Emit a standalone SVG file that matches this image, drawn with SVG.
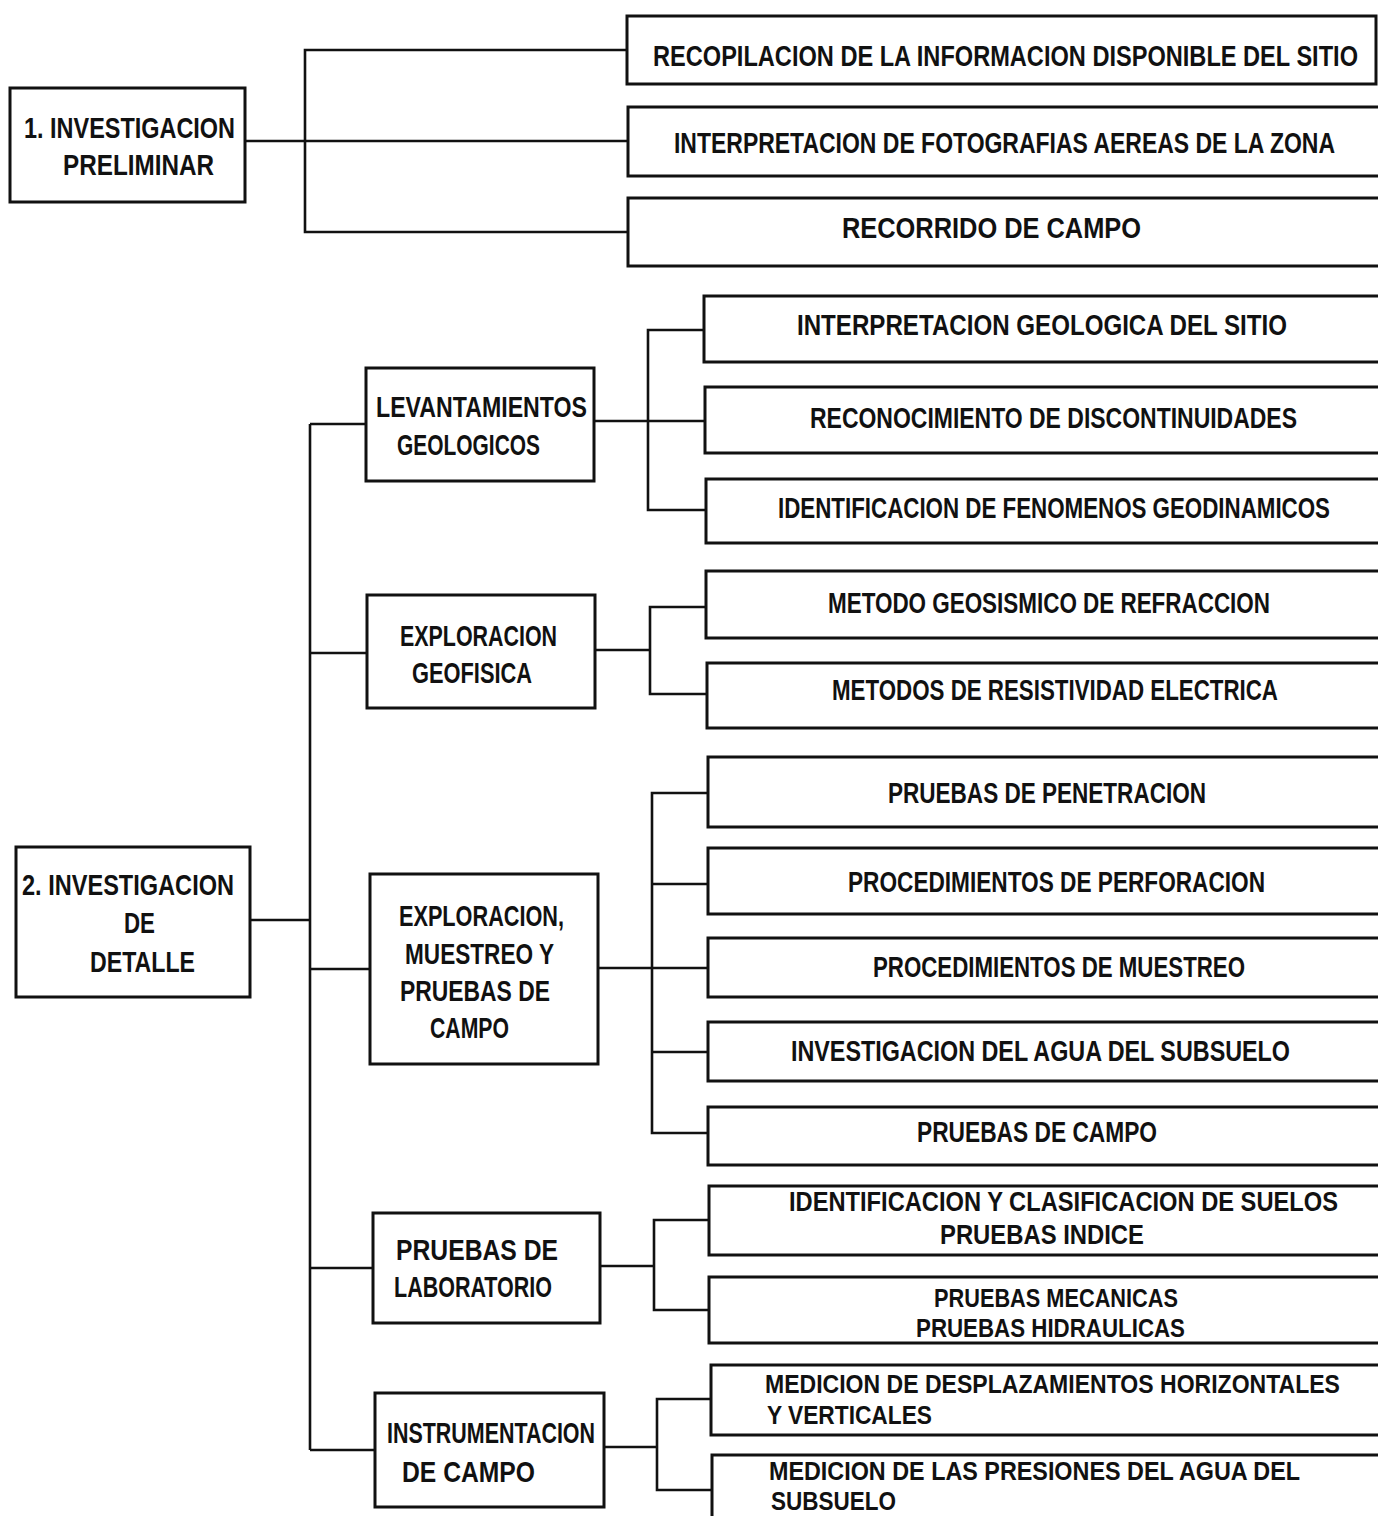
<svg xmlns="http://www.w3.org/2000/svg" width="1378" height="1516" viewBox="0 0 1378 1516">
<style>
.bx{fill:none;stroke:#111;stroke-width:3}
.cn{fill:none;stroke:#111;stroke-width:2.6}
text{font-family:"Liberation Sans",Arial,sans-serif;font-weight:bold;font-size:30px;fill:#111}
.m{font-size:28px}
.s{font-size:26px}
</style>
<rect x="0" y="0" width="1378" height="1516" fill="#fff"/>
<g id="connectors">
<path class="cn" d="M245 141 H627"/>
<path class="cn" d="M627 50 H305 V232 H628"/>
<path class="cn" d="M250 920 H310"/>
<path class="cn" d="M310 424 V1450"/>
<path class="cn" d="M310 424 H366 M310 653 H367 M310 969 H370 M310 1268 H373 M310 1450 H375"/>
<path class="cn" d="M594 421 H704 M704 330 H648 V510 H706"/>
<path class="cn" d="M595 650 H650 M706 607 H650 V694 H707"/>
<path class="cn" d="M598 968 H708 M708 793 H652 V1133 H708 M652 884 H708 M652 1052 H708"/>
<path class="cn" d="M600 1266 H654 M709 1220 H654 V1310 H709"/>
<path class="cn" d="M604 1447 H657 M711 1399 H657 V1490 H712"/>
</g>
<g id="n-investigacion-preliminar">
<rect class="bx" x="10" y="88" width="235" height="114"/>
<text x="24" y="138" textLength="211" lengthAdjust="spacingAndGlyphs">1. INVESTIGACION</text>
<text x="63" y="175" textLength="151" lengthAdjust="spacingAndGlyphs">PRELIMINAR</text>
</g>
<g id="n-recopilacion">
<rect class="bx" x="627" y="16" width="749" height="68"/>
<text transform="scale(0.7 1)" x="932.86" y="66" textLength="1007.14" lengthAdjust="spacingAndGlyphs">RECOPILACION DE LA INFORMACION DISPONIBLE DEL SITIO</text>
</g>
<g id="n-fotografias">
<path class="bx" d="M1380 107 H628 V176 H1380"/>
<text transform="scale(0.7 1)" x="962.86" y="153" textLength="944.29" lengthAdjust="spacingAndGlyphs">INTERPRETACION DE FOTOGRAFIAS AEREAS DE LA ZONA</text>
</g>
<g id="n-recorrido">
<path class="bx" d="M1380 198 H628 V266 H1380"/>
<text transform="scale(0.7 1)" x="1202.86" y="238" textLength="427.14" lengthAdjust="spacingAndGlyphs">RECORRIDO DE CAMPO</text>
</g>
<g id="n-investigacion-detalle">
<rect class="bx" x="16" y="847" width="234" height="150"/>
<text x="22" y="895" textLength="212" lengthAdjust="spacingAndGlyphs">2. INVESTIGACION</text>
<text x="124" y="933" textLength="31" lengthAdjust="spacingAndGlyphs">DE</text>
<text x="90" y="972" textLength="105" lengthAdjust="spacingAndGlyphs">DETALLE</text>
</g>
<g id="n-levantamientos">
<rect class="bx" x="366" y="368" width="228" height="113"/>
<text x="376" y="417" textLength="211" lengthAdjust="spacingAndGlyphs">LEVANTAMIENTOS</text>
<text x="397" y="455" textLength="143" lengthAdjust="spacingAndGlyphs">GEOLOGICOS</text>
</g>
<g id="n-geofisica">
<rect class="bx" x="367" y="595" width="228" height="113"/>
<text x="400" y="646" textLength="157" lengthAdjust="spacingAndGlyphs">EXPLORACION</text>
<text x="412" y="683" textLength="120" lengthAdjust="spacingAndGlyphs">GEOFISICA</text>
</g>
<g id="n-exploracion-muestreo">
<rect class="bx" x="370" y="874" width="228" height="190"/>
<text x="399" y="926" textLength="165" lengthAdjust="spacingAndGlyphs">EXPLORACION,</text>
<text x="405" y="964" textLength="149" lengthAdjust="spacingAndGlyphs">MUESTREO Y</text>
<text x="400" y="1001" textLength="150" lengthAdjust="spacingAndGlyphs">PRUEBAS DE</text>
<text x="430" y="1038" textLength="79" lengthAdjust="spacingAndGlyphs">CAMPO</text>
</g>
<g id="n-laboratorio">
<rect class="bx" x="373" y="1213" width="227" height="110"/>
<text x="396" y="1260" textLength="162" lengthAdjust="spacingAndGlyphs">PRUEBAS DE</text>
<text x="394" y="1297" textLength="158" lengthAdjust="spacingAndGlyphs">LABORATORIO</text>
</g>
<g id="n-instrumentacion">
<rect class="bx" x="375" y="1393" width="229" height="114"/>
<text x="387" y="1443" textLength="208" lengthAdjust="spacingAndGlyphs">INSTRUMENTACION</text>
<text x="402" y="1482" textLength="133" lengthAdjust="spacingAndGlyphs">DE CAMPO</text>
</g>
<g id="n-interpretacion-geologica">
<path class="bx" d="M1380 296 H704 V362 H1380"/>
<text transform="scale(0.7 1)" x="1138.57" y="335" textLength="700" lengthAdjust="spacingAndGlyphs">INTERPRETACION  GEOLOGICA DEL SITIO</text>
</g>
<g id="n-discontinuidades">
<path class="bx" d="M1380 387 H705 V453 H1380"/>
<text transform="scale(0.7 1)" x="1157.14" y="428" textLength="695.71" lengthAdjust="spacingAndGlyphs">RECONOCIMIENTO DE DISCONTINUIDADES</text>
</g>
<g id="n-geodinamicos">
<path class="bx" d="M1380 479 H706 V543 H1380"/>
<text transform="scale(0.7 1)" x="1111.43" y="518" textLength="788.57" lengthAdjust="spacingAndGlyphs">IDENTIFICACION DE FENOMENOS GEODINAMICOS</text>
</g>
<g id="n-geosismico">
<path class="bx" d="M1380 571 H706 V638 H1380"/>
<text transform="scale(0.7 1)" x="1182.86" y="613" textLength="631.43" lengthAdjust="spacingAndGlyphs">METODO GEOSISMICO DE REFRACCION</text>
</g>
<g id="n-resistividad">
<path class="bx" d="M1380 663 H707 V728 H1380"/>
<text transform="scale(0.7 1)" x="1188.57" y="700" textLength="637.14" lengthAdjust="spacingAndGlyphs">METODOS DE RESISTIVIDAD ELECTRICA</text>
</g>
<g id="n-penetracion">
<path class="bx" d="M1380 757 H708 V827 H1380"/>
<text transform="scale(0.7 1)" x="1268.57" y="803" textLength="454.29" lengthAdjust="spacingAndGlyphs">PRUEBAS DE PENETRACION</text>
</g>
<g id="n-perforacion">
<path class="bx" d="M1380 848 H708 V914 H1380"/>
<text transform="scale(0.7 1)" x="1211.43" y="892" textLength="595.71" lengthAdjust="spacingAndGlyphs">PROCEDIMIENTOS DE PERFORACION</text>
</g>
<g id="n-muestreo">
<path class="bx" d="M1380 938 H708 V997 H1380"/>
<text transform="scale(0.7 1)" x="1247.14" y="977" textLength="531.43" lengthAdjust="spacingAndGlyphs">PROCEDIMIENTOS DE MUESTREO</text>
</g>
<g id="n-agua-subsuelo">
<path class="bx" d="M1380 1022 H708 V1081 H1380"/>
<text transform="scale(0.7 1)" x="1130" y="1061" textLength="712.86" lengthAdjust="spacingAndGlyphs">INVESTIGACION DEL AGUA DEL SUBSUELO</text>
</g>
<g id="n-pruebas-campo">
<path class="bx" d="M1380 1107 H708 V1165 H1380"/>
<text transform="scale(0.7 1)" x="1310" y="1142" textLength="342.86" lengthAdjust="spacingAndGlyphs">PRUEBAS DE CAMPO</text>
</g>
<g id="n-clasificacion">
<path class="bx" d="M1380 1186 H709 V1255 H1380"/>
<text class="m" transform="scale(0.7 1)" x="1127.14" y="1211" textLength="784.29" lengthAdjust="spacingAndGlyphs">IDENTIFICACION Y CLASIFICACION DE SUELOS</text>
<text class="m" transform="scale(0.7 1)" x="1342.86" y="1244" textLength="291.43" lengthAdjust="spacingAndGlyphs">PRUEBAS INDICE</text>
</g>
<g id="n-mecanicas">
<path class="bx" d="M1380 1277 H709 V1343 H1380"/>
<text class="s" transform="scale(0.7 1)" x="1334.29" y="1307" textLength="348.57" lengthAdjust="spacingAndGlyphs">PRUEBAS MECANICAS</text>
<text class="s" transform="scale(0.7 1)" x="1308.57" y="1337" textLength="384.29" lengthAdjust="spacingAndGlyphs">PRUEBAS HIDRAULICAS</text>
</g>
<g id="n-desplazamientos">
<path class="bx" d="M1380 1365 H711 V1435 H1380"/>
<text class="s" transform="scale(0.7 1)" x="1092.86" y="1393" textLength="821.43" lengthAdjust="spacingAndGlyphs">MEDICION DE DESPLAZAMIENTOS HORIZONTALES</text>
<text class="s" transform="scale(0.7 1)" x="1095.71" y="1424" textLength="235.71" lengthAdjust="spacingAndGlyphs">Y VERTICALES</text>
</g>
<g id="n-presiones">
<path class="bx" d="M1380 1455 H712 V1520"/>
<text class="s" transform="scale(0.7 1)" x="1098.57" y="1480" textLength="758.57" lengthAdjust="spacingAndGlyphs">MEDICION DE LAS PRESIONES DEL AGUA DEL</text>
<text class="s" transform="scale(0.7 1)" x="1101.43" y="1510" textLength="178.57" lengthAdjust="spacingAndGlyphs">SUBSUELO</text>
</g>
</svg>
